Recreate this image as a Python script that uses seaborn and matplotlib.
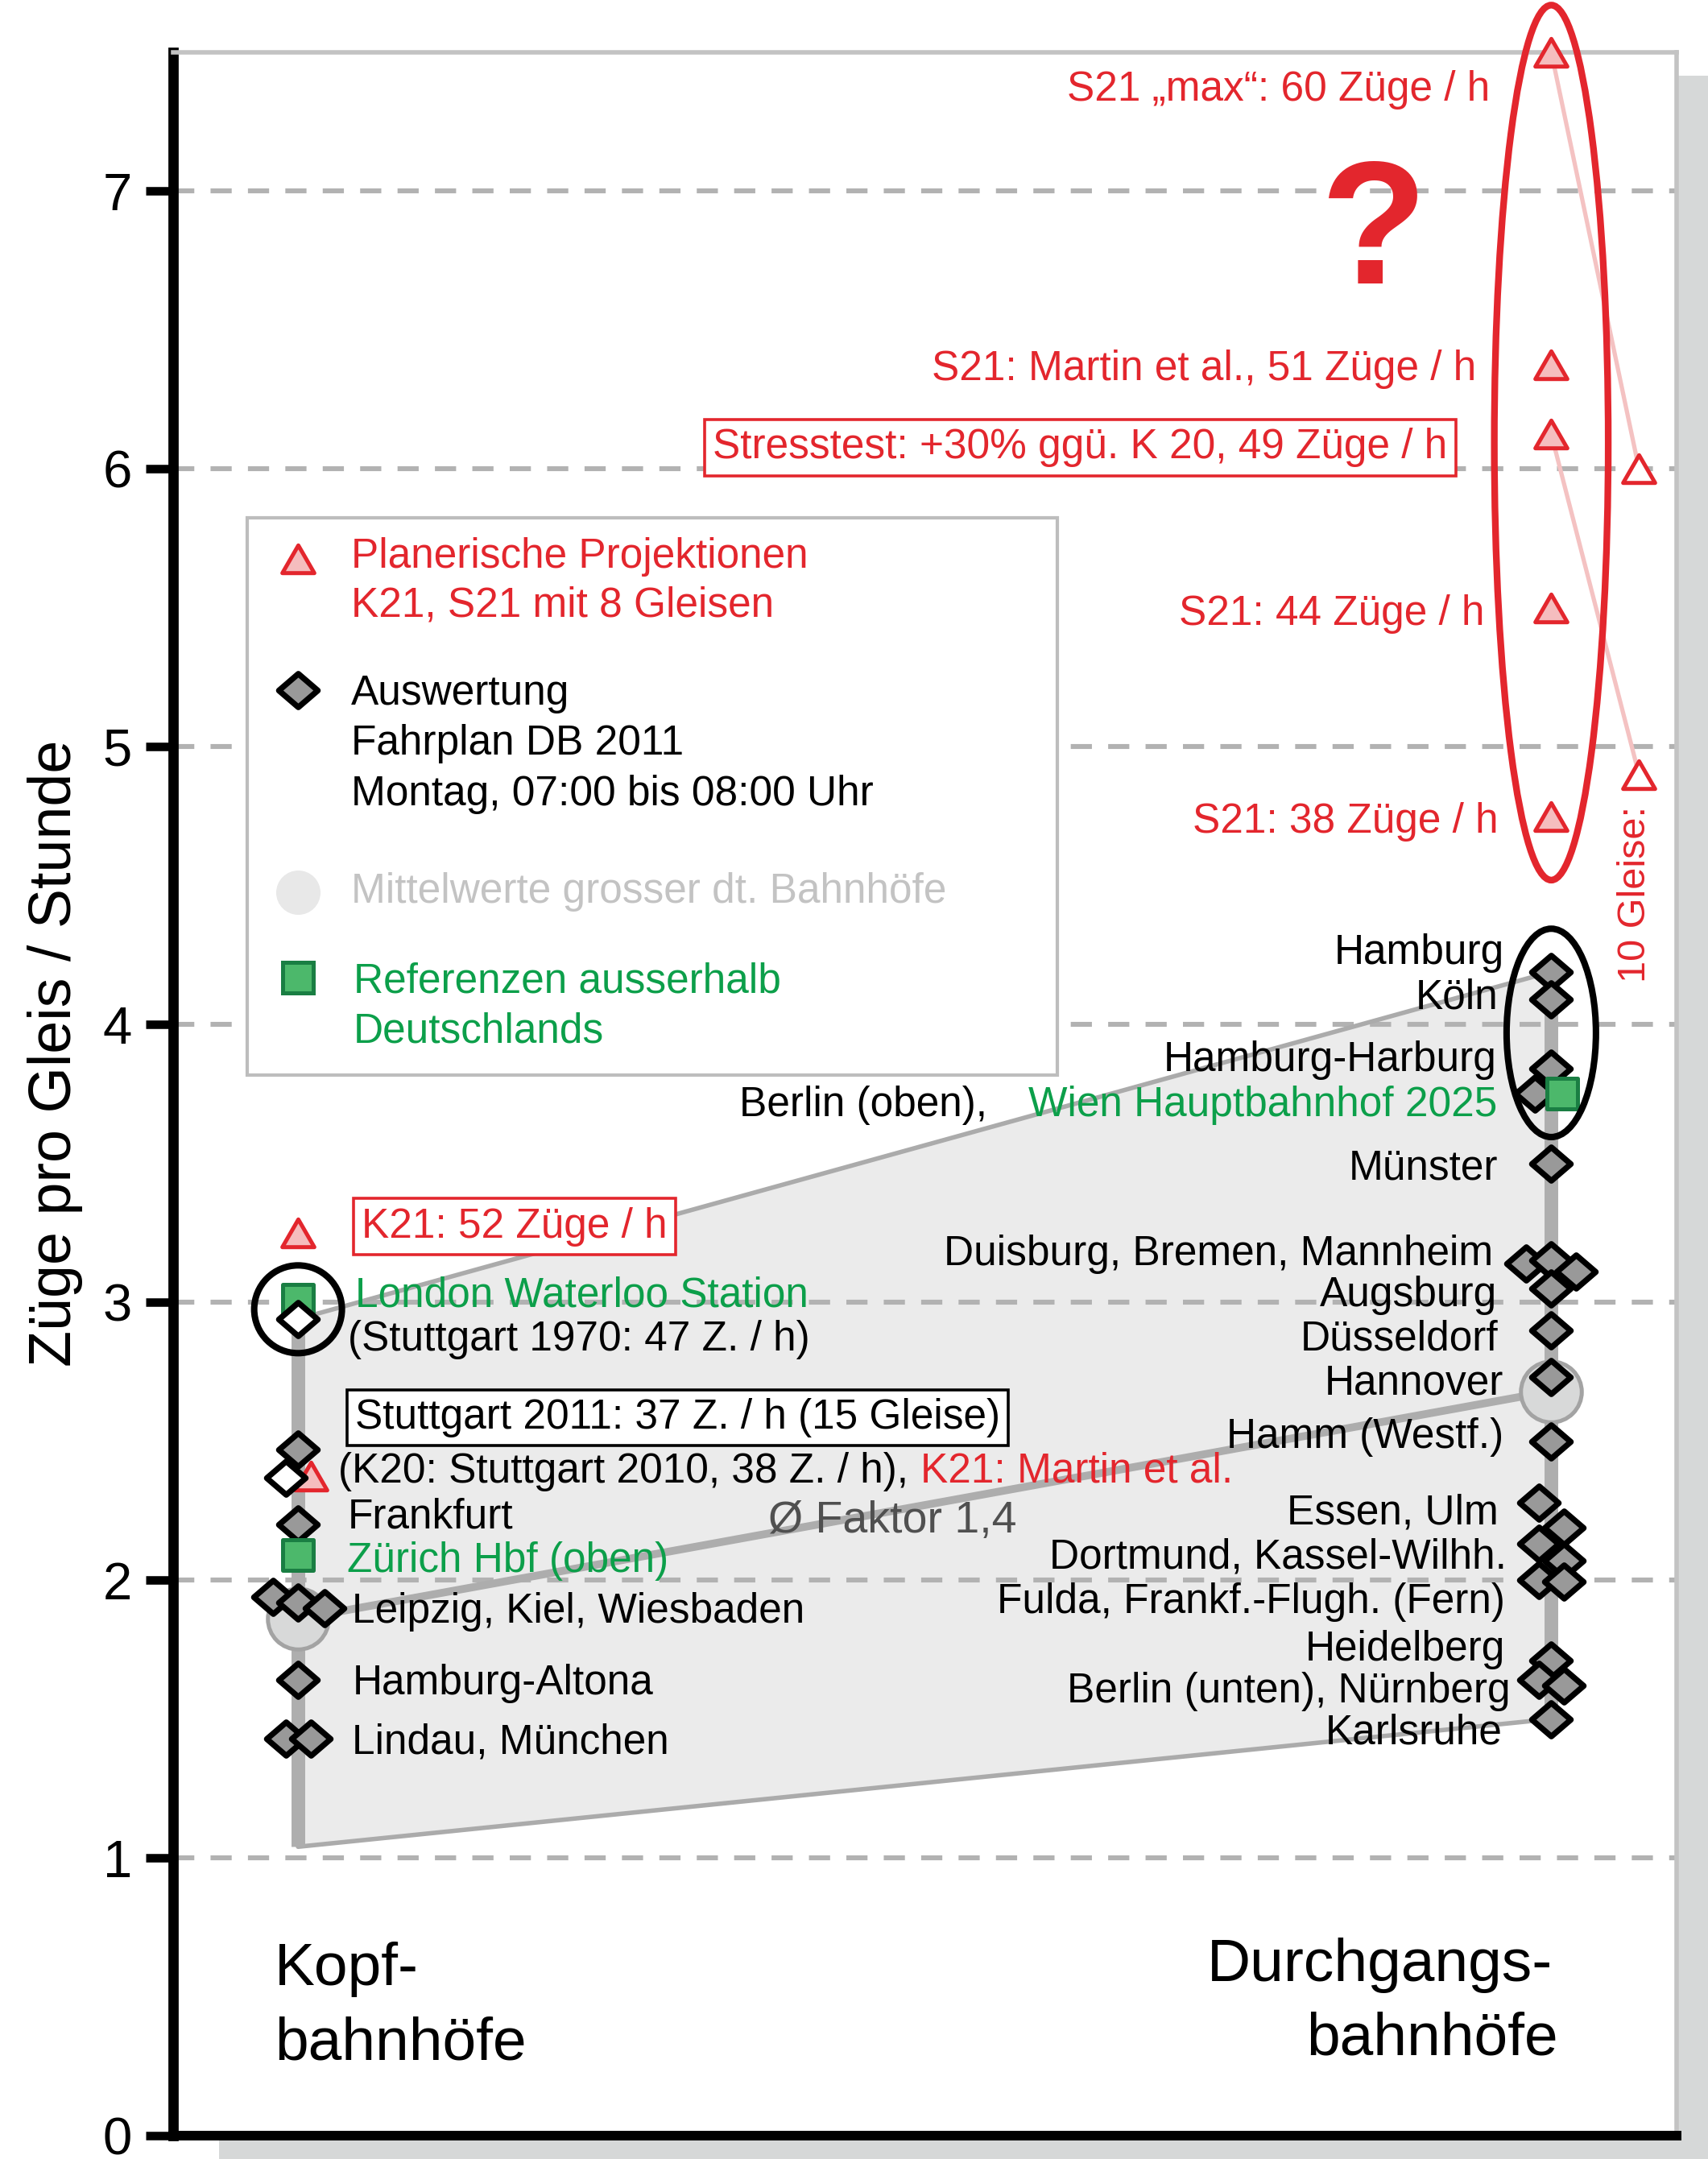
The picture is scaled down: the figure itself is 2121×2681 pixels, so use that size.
import numpy as np
import pandas as pd
import matplotlib
matplotlib.use("Agg")
import matplotlib.pyplot as plt
import seaborn as sns
from matplotlib.path import Path
from matplotlib.markers import MarkerStyle
from matplotlib.patches import Ellipse, Polygon, Rectangle

# ---------------------------------------------------------------- data
groups = ["Kopfbahnhöfe", "Durchgangsbahnhöfe"]

kopf_stations = ["Stuttgart 2011", "Frankfurt", "Leipzig", "Kiel", "Wiesbaden",
                 "Hamburg-Altona", "Lindau", "München"]
kopf_values = [2.47, 2.20, 1.94, 1.92, 1.90, 1.64, 1.43, 1.43]

kopf_hist_stations = ["Stuttgart 1970", "Stuttgart 2010 (K20)"]
kopf_hist_values = [2.94, 2.37]

kopf_ref_stations = ["London Waterloo Station", "Zürich Hbf (oben)"]
kopf_ref_values = [3.01, 2.09]

kopf_proj_labels = ["K21: 52 Züge / h", "K21: Martin et al."]
kopf_proj_values = [3.25, 2.375]

durch_stations = ["Hamburg", "Köln", "Hamburg-Harburg", "Berlin (oben)", "Münster",
                  "Duisburg", "Bremen", "Mannheim", "Augsburg", "Düsseldorf",
                  "Hannover", "Hamm (Westf.)", "Essen", "Ulm", "Dortmund",
                  "Kassel-Wilhh.", "Fulda", "Frankf.-Flugh. (Fern)", "Heidelberg",
                  "Berlin (unten)", "Nürnberg", "Karlsruhe"]
durch_values = [4.19, 4.09, 3.84, 3.75, 3.50, 3.14, 3.15, 3.11, 3.05, 2.90,
                2.73, 2.50, 2.28, 2.19, 2.13, 2.07, 2.00, 1.995, 1.71,
                1.64, 1.62, 1.50]

durch_ref_stations = ["Wien Hauptbahnhof 2025"]
durch_ref_values = [3.75]

s21_proj_labels = ["S21 \u201emax\u201c: 60 Züge / h", "S21: Martin et al., 51 Züge / h",
                   "Stresstest: +30% ggü. K 20, 49 Züge / h", "S21: 44 Züge / h",
                   "S21: 38 Züge / h"]
s21_8_values = [7.5, 6.375, 6.125, 5.5, 4.75]      # 8 Gleise
s21_10_values = [6.0, 4.9]                          # 60 and 49 Züge on 10 Gleise

mean_values = [1.86, 2.68]
envelope_low = [1.04, 1.50]
envelope_high = [2.94, 4.19]

y_ticks = [0, 1, 2, 3, 4, 5, 6, 7]
y_tick_labels = ["0", "1", "2", "3", "4", "5", "6", "7"]

# ---------------------------------------------------------------- layout
X_KOPF, X_DURCH, X_DURCH10 = 0.0, 1.0, 1.07
kopf_dodge = [0, 0, -0.020, 0, 0.021, 0, -0.010, 0.010]
kopf_hist_dodge = [0, -0.010]
kopf_ref_dodge = [0, 0]
kopf_proj_dodge = [0, 0.010]
durch_dodge = [0, 0, 0, -0.013, 0, -0.020, 0, 0.020, 0, 0, 0, 0,
               -0.010, 0.010, -0.010, 0.010, -0.010, 0.010, 0, -0.010, 0.010, 0]
durch_ref_dodge = [0.009]

RED = "#E3262D"
PINK = "#F5BDBE"
GREEN_TXT = "#0C9F4A"
GREEN_FILL = "#4CB86B"
GREEN_EDGE = "#1A7E43"
GRAY_FILL = "#999999"
LBL = 18.5

sns.set_theme(style="white")
plt.rcParams["font.family"] = ["Liberation Sans", "DejaVu Sans"]

W, H, DPI = 2121, 2681, 200
fig = plt.figure(figsize=(W / DPI, H / DPI), dpi=DPI)
fig.patch.set_facecolor("white")
ax = fig.add_axes([214.5 / W, 1 - 2652 / H, (2082 - 214.5) / W, (2652 - 65) / H])
ax.set_facecolor("white")

# drop shadow behind the frame
fig.add_artist(Rectangle((272 / W, -0.02), 1.0, 1 - 94 / H + 0.02,
                         transform=fig.transFigure, facecolor="#D6D8D8",
                         edgecolor="none", zorder=-10))

ax.set_xlim(-0.1, 1.1)
ax.set_ylim(0, 7.5)

# markers
diamond = MarkerStyle(Path([(-1, 0), (0, 0.86), (1, 0), (0, -0.86), (-1, 0)],
                           [Path.MOVETO, Path.LINETO, Path.LINETO, Path.LINETO, Path.CLOSEPOLY]))
triangle = MarkerStyle(Path([(-1, -0.866), (1, -0.866), (0, 0.866), (-1, -0.866)],
                            [Path.MOVETO, Path.LINETO, Path.LINETO, Path.CLOSEPOLY]))


def frame(x0, vals, dodge):
    return pd.DataFrame({"x": [x0 + d for d in dodge], "y": vals})


# envelope polygon
poly = Polygon([[X_KOPF, envelope_high[0]], [X_DURCH, envelope_high[1]],
                [X_DURCH, envelope_low[1]], [X_KOPF, envelope_low[0]]],
               closed=True, facecolor="#EBEBEB", edgecolor="none", zorder=0.2)
ax.add_patch(poly)

# grid
ax.set_axisbelow(True)
ax.yaxis.grid(True, color="#B2B2B2", linewidth=2.2, linestyle=(0, (4.3, 3.3)))
ax.xaxis.grid(False)

# envelope edges
ax.plot([X_KOPF, X_DURCH], envelope_high, color="#ABABAB", lw=2.0, zorder=1)
ax.plot([X_KOPF, X_DURCH], envelope_low, color="#ABABAB", lw=2.0, zorder=1)
ax.plot([X_KOPF, X_KOPF], [envelope_low[0], envelope_high[0]], color="#AEAEAE",
        lw=6.1, solid_capstyle="butt", zorder=1)
ax.plot([X_DURCH, X_DURCH], [envelope_low[1], envelope_high[1]], color="#AEAEAE",
        lw=6.1, solid_capstyle="butt", zorder=1)

# mean line
sns.lineplot(x=[X_KOPF, X_DURCH], y=mean_values, ax=ax, color="#ADADAD", lw=3.5,
             zorder=1.2, legend=False)

# pale red lines 8 -> 10 Gleise
for v8, v10 in zip([s21_8_values[0], s21_8_values[2]], s21_10_values):
    ax.plot([X_DURCH, X_DURCH10], [v8, v10], color="#F4C2C2", lw=1.9, zorder=1.5,
            solid_capstyle="butt")

# mean circles
sns.scatterplot(data=pd.DataFrame({"x": [X_KOPF, X_DURCH], "y": mean_values}), x="x", y="y",
                ax=ax, marker="o", s=27.2 ** 2, color="#D8D9D9", edgecolor="#A3A3A3",
                linewidth=1.8, zorder=4, legend=False)

# projections (triangles)
sns.scatterplot(data=frame(X_KOPF, kopf_proj_values, kopf_proj_dodge), x="x", y="y", ax=ax,
                marker=triangle, s=14.3 ** 2, color=PINK, edgecolor=RED, linewidth=1.8,
                zorder=5, legend=False, clip_on=False)
sns.scatterplot(data=frame(X_DURCH, s21_8_values, [0] * len(s21_8_values)), x="x", y="y",
                ax=ax, marker=triangle, s=14.3 ** 2, color=PINK, edgecolor=RED,
                linewidth=1.8, zorder=5, legend=False, clip_on=False)
sns.scatterplot(data=frame(X_DURCH10, s21_10_values, [0] * len(s21_10_values)), x="x", y="y",
                ax=ax, marker=triangle, s=14.3 ** 2, color="white", edgecolor=RED,
                linewidth=1.8, zorder=5, legend=False, clip_on=False)

# DB 2011 evaluation (gray diamonds)
sns.scatterplot(data=frame(X_KOPF, kopf_values, kopf_dodge), x="x", y="y", ax=ax,
                marker=diamond, s=17.4 ** 2, color=GRAY_FILL, edgecolor="black",
                linewidth=2.6, zorder=6, legend=False)
sns.scatterplot(data=frame(X_DURCH, durch_values, durch_dodge), x="x", y="y", ax=ax,
                marker=diamond, s=17.4 ** 2, color=GRAY_FILL, edgecolor="black",
                linewidth=2.6, zorder=6, legend=False)

# references outside Germany
sns.scatterplot(data=frame(X_KOPF, kopf_ref_values, kopf_ref_dodge), x="x", y="y", ax=ax,
                marker="s", s=14 ** 2, color=GREEN_FILL, edgecolor=GREEN_EDGE,
                linewidth=1.8, zorder=6.5, legend=False)
sns.scatterplot(data=frame(X_DURCH, durch_ref_values, durch_ref_dodge), x="x", y="y", ax=ax,
                marker="s", s=14 ** 2, color=GREEN_FILL, edgecolor=GREEN_EDGE,
                linewidth=1.8, zorder=6.5, legend=False)

# historic Stuttgart values (white diamonds)
sns.scatterplot(data=frame(X_KOPF, kopf_hist_values, kopf_hist_dodge), x="x", y="y", ax=ax,
                marker=diamond, s=17.4 ** 2, color="white", edgecolor="black",
                linewidth=2.6, zorder=7, legend=False)

# highlight ellipses
ax.add_patch(Ellipse((X_KOPF, (kopf_hist_values[0] + kopf_ref_values[0]) / 2), 0.070, 0.316,
                     fill=False, edgecolor="black", lw=2.9, zorder=8, clip_on=False))
top_group = durch_values[:4] + durch_ref_values
ax.add_patch(Ellipse((X_DURCH, (max(top_group) + min(top_group)) / 2), 0.0713,
                     max(top_group) - min(top_group) + 0.31,
                     fill=False, edgecolor="black", lw=2.9, zorder=8, clip_on=False))
ax.add_patch(Ellipse((X_DURCH, (max(s21_8_values) + min(s21_8_values)) / 2 - 0.03), 0.0909,
                     max(s21_8_values) - min(s21_8_values) + 0.40,
                     fill=False, edgecolor=RED, lw=3.0, zorder=8, clip_on=False))

# ---------------------------------------------------------------- texts
TZ = 9
box_kw = dict(boxstyle="square,pad=0.2", facecolor="white", lw=1.3)

# Kopfbahnhöfe labels
ax.text(0.0509, 3.273, kopf_proj_labels[0], color=RED, fontsize=LBL, ha="left", va="center",
        zorder=TZ, bbox=dict(edgecolor=RED, **box_kw))
ax.text(0.0454, 3.025, kopf_ref_stations[0], color=GREEN_TXT, fontsize=LBL, ha="left",
        va="center", zorder=TZ)
ax.text(0.0398, 2.866, "(Stuttgart 1970: 47 Z. / h)", color="black", fontsize=LBL,
        ha="left", va="center", zorder=TZ)
ax.text(0.0454, 2.584, "Stuttgart 2011: 37 Z. / h (15 Gleise)", color="black", fontsize=LBL,
        ha="left", va="center", zorder=TZ, bbox=dict(edgecolor="black", **box_kw))
t_k20 = ax.text(0.0320, 2.391, "(K20: Stuttgart 2010, 38 Z. / h),", color="black",
                fontsize=LBL, ha="left", va="center", zorder=TZ)
ax.annotate(kopf_proj_labels[1], xy=(1, 0.5), xycoords=t_k20, xytext=(5.5, 0),
            textcoords="offset points", color=RED, fontsize=LBL, ha="left", va="center",
            zorder=TZ)
ax.text(0.0398, 2.227, "Frankfurt", color="black", fontsize=LBL, ha="left", va="center", zorder=TZ)
ax.text(0.0388, 2.068, kopf_ref_stations[1], color=GREEN_TXT, fontsize=LBL, ha="left",
        va="center", zorder=TZ)
ax.text(0.0432, 1.885, "Leipzig, Kiel, Wiesbaden", color="black", fontsize=LBL, ha="left",
        va="center", zorder=TZ)
ax.text(0.0432, 1.628, "Hamburg-Altona", color="black", fontsize=LBL, ha="left", va="center",
        zorder=TZ)
ax.text(0.0432, 1.414, "Lindau, München", color="black", fontsize=LBL, ha="left", va="center",
        zorder=TZ)
ax.text(0.474, 2.212, "Ø Faktor 1,4", color="#505050", fontsize=20, ha="center", va="center",
        zorder=TZ)

# Durchgangsbahnhöfe labels
right_labels = [
    ("Hamburg", 0.9622, 4.258, "black"),
    ("Köln", 0.9578, 4.095, "black"),
    ("Hamburg-Harburg", 0.9567, 3.872, "black"),
    ("Wien Hauptbahnhof 2025", 0.9567, 3.709, GREEN_TXT),
    ("Münster", 0.9578, 3.481, "black"),
    ("Duisburg, Bremen, Mannheim", 0.9534, 3.173, "black"),
    ("Augsburg", 0.9567, 3.025, "black"),
    ("Düsseldorf", 0.9578, 2.866, "black"),
    ("Hannover", 0.9622, 2.708, "black"),
    ("Hamm (Westf.)", 0.9622, 2.514, "black"),
    ("Essen, Ulm", 0.9578, 2.242, "black"),
    ("Dortmund, Kassel-Wilhh.", 0.9644, 2.083, "black"),
    ("Fulda, Frankf.-Flugh. (Fern)", 0.9633, 1.920, "black"),
    ("Heidelberg", 0.9633, 1.751, "black"),
    ("Berlin (unten), Nürnberg", 0.9677, 1.598, "black"),
    ("Karlsruhe", 0.9611, 1.449, "black"),
]
for txt, x, y, c in right_labels:
    ax.text(x, y, txt, color=c, fontsize=LBL, ha="right", va="center", zorder=TZ)
ax.text(0.352, 3.709, "Berlin (oben),", color="black", fontsize=LBL, ha="left", va="center",
        zorder=TZ)

# S21 projections
ax.text(0.9512, 7.365, s21_proj_labels[0], color=RED, fontsize=LBL, ha="right", va="center", zorder=TZ)
ax.text(0.9402, 6.360, s21_proj_labels[1], color=RED, fontsize=LBL, ha="right", va="center", zorder=TZ)
ax.text(0.331, 6.077, s21_proj_labels[2], color=RED, fontsize=LBL, ha="left", va="center",
        zorder=TZ, bbox=dict(edgecolor=RED, **box_kw))
ax.text(0.9468, 5.477, s21_proj_labels[3], color=RED, fontsize=LBL, ha="right", va="center", zorder=TZ)
ax.text(0.9578, 4.729, s21_proj_labels[4], color=RED, fontsize=LBL, ha="right", va="center", zorder=TZ)
ax.text(0.858, 6.667, "?", color=RED, fontsize=78, fontweight="bold", ha="center",
        va="baseline", zorder=TZ)
ax.text(1.067, 4.47, "10 Gleise:", color=RED, fontsize=17.5, rotation=90, ha="center",
        va="center", zorder=TZ)

# group captions
ax.text(-0.0185, 0.542, "Kopf-", fontsize=27, ha="left", va="baseline", color="black", zorder=TZ)
ax.text(-0.0185, 0.275, "bahnhöfe", fontsize=27, ha="left", va="baseline", color="black", zorder=TZ)
ax.text(1.001, 0.558, "Durchgangs-", fontsize=27, ha="right", va="baseline", color="black", zorder=TZ)
ax.text(1.0053, 0.290, "bahnhöfe", fontsize=27, ha="right", va="baseline", color="black", zorder=TZ)

# ---------------------------------------------------------------- legend (manual)
def axf(x, y):
    return (x + 0.1) / 1.2, y / 7.5

lx0, ly0 = axf(-0.0404, 3.817)
lx1, ly1 = axf(0.606, 5.824)
ax.add_patch(Rectangle((lx0, ly0), lx1 - lx0, ly1 - ly0, transform=ax.transAxes,
                       facecolor="white", edgecolor="#BDBDBD", lw=1.5, zorder=3))
mx = axf(0, 0)[0]
tx = axf(0.0421, 0)[0]
ax.plot([mx], [5.676 / 7.5], transform=ax.transAxes, marker=triangle, ms=14.3,
        mfc=PINK, mec=RED, mew=1.8, ls="none", zorder=3.2)
ax.plot([mx], [5.205 / 7.5], transform=ax.transAxes, marker=diamond, ms=17.4,
        mfc=GRAY_FILL, mec="black", mew=2.6, ls="none", zorder=3.2)
ax.plot([mx], [4.477 / 7.5], transform=ax.transAxes, marker="o", ms=19.8,
        mfc="#E8E8E8", mec="none", ls="none", zorder=3.2)
ax.plot([mx], [4.169 / 7.5], transform=ax.transAxes, marker="s", ms=14,
        mfc=GREEN_FILL, mec=GREEN_EDGE, mew=1.8, ls="none", zorder=3.2)
legend_lines = [
    ("Planerische Projektionen", 5.685, RED, tx),
    ("K21, S21 mit 8 Gleisen", 5.507, RED, tx),
    ("Auswertung", 5.190, "black", tx),
    ("Fahrplan DB 2011", 5.012, "black", tx),
    ("Montag, 07:00 bis 08:00 Uhr", 4.828, "black", tx),
    ("Mittelwerte grosser dt. Bahnhöfe", 4.477, "#C3C3C3", tx),
    ("Referenzen ausserhalb", 4.155, GREEN_TXT, axf(0.0444, 0)[0]),
    ("Deutschlands", 3.976, GREEN_TXT, axf(0.0444, 0)[0]),
]
for txt, y, c, x in legend_lines:
    ax.text(x, y / 7.5, txt, transform=ax.transAxes, color=c, fontsize=LBL, ha="left",
            va="center", zorder=3.3)

# ---------------------------------------------------------------- axes styling
ax.set_xticks([])
ax.set_yticks(y_ticks)
ax.set_yticklabels(y_tick_labels)
ax.tick_params(axis="y", which="major", left=True, direction="out", length=12.4,
               width=3.8, color="black", pad=5.8, labelsize=23.5, labelcolor="black")
ax.set_xlabel("")
ax.set_ylabel("Züge pro Gleis / Stunde", fontsize=26.5, color="black", va="center")
ax.yaxis.set_label_coords(-0.0784, 0.5197)

ax.spines["left"].set(color="black", linewidth=4.6)
ax.spines["bottom"].set(color="black", linewidth=4.3)
ax.spines["top"].set(color="#C3C3C3", linewidth=2.0)
ax.spines["right"].set(color="#C3C3C3", linewidth=2.0)
for s in ax.spines.values():
    s.set_visible(True)

fig.savefig("out.png", dpi=DPI, facecolor="white")
